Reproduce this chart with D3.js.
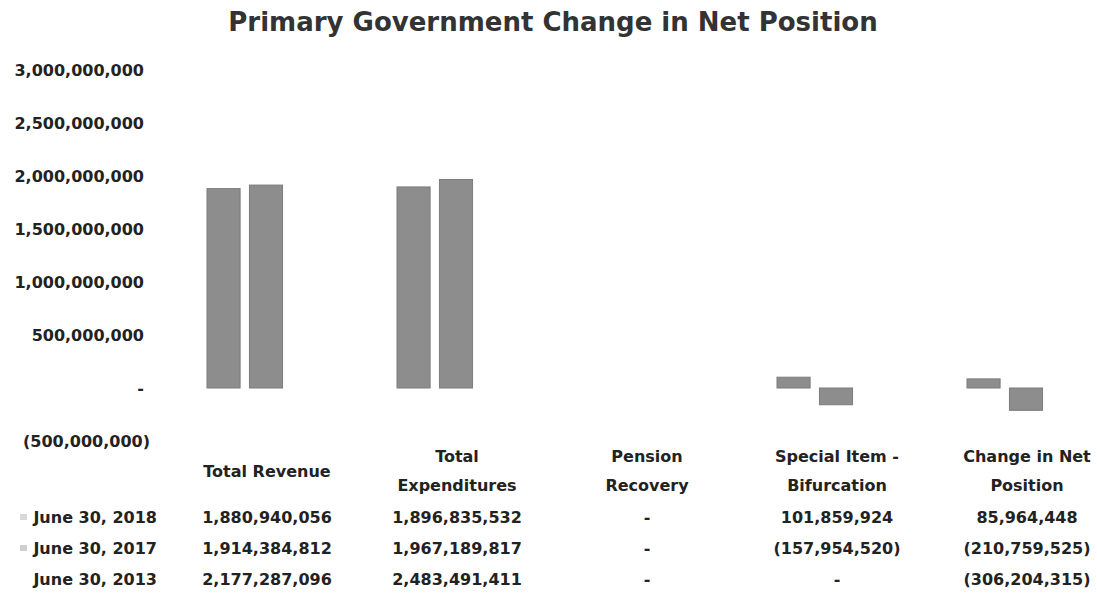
<!DOCTYPE html>
<html>
<head>
<meta charset="utf-8">
<script src="https://cdn.jsdelivr.net/npm/d3@7"></script>
<style>
  body { margin: 0; background: #fff; }
  svg text { font-family: "DejaVu Sans", sans-serif; font-weight: bold; fill: #222; }
</style>
</head>
<body>
<svg id="chart" width="1097" height="595"></svg>
<script>
// Data
const categories = ["Total Revenue", "Total Expenditures", "Pension Recovery", "Special Item - Bifurcation", "Change in Net Position"];
const categoryLines = [["Total Revenue"], ["Total", "Expenditures"], ["Pension", "Recovery"], ["Special Item -", "Bifurcation"], ["Change in Net", "Position"]];
const seriesNames = ["June 30, 2018", "June 30, 2017", "June 30, 2013"];
const values2018 = [1880940056, 1896835532, 0, 101859924, 85964448];
const values2017 = [1914384812, 1967189817, 0, -157954520, -210759525];
const values2013 = [2177287096, 2483491411, 0, 0, -306204315];
const yTicks = [-500000000, 0, 500000000, 1000000000, 1500000000, 2000000000, 2500000000, 3000000000];

const seriesValues = [values2018, values2017, values2013];
const seriesFill = ["#8d8d8d", "#8d8d8d", "#ffffff"];
const keyFill = ["#d8d8d8", "#cfcfcf", "none"];

const svg = d3.select("#chart");

// Title
svg.append("text")
  .attr("x", 553)
  .attr("y", 31)
  .attr("text-anchor", "middle")
  .attr("font-size", "26px")
  .style("fill", "#333")
  .text("Primary Government Change in Net Position");

// Scales
const x0 = d3.scaleBand()
  .domain(categories)
  .range([171, 1121]);

const x1 = d3.scaleBand()
  .domain(seriesNames)
  .range([36, 154])
  .paddingInner(0.22);

const y = d3.scaleLinear()
  .domain([-500000000, 3000000000])
  .range([441, 70]);

// Excel accounting style number format
const fmtNum = d3.format(",");
function acct(v)
{
  if (v === 0) return "-";
  if (v < 0) return "(" + fmtNum(-v) + ")";
  return fmtNum(v);
}

// Y axis (labels only)
const yAxis = d3.axisLeft(y)
  .tickValues(yTicks)
  .tickFormat(acct)
  .tickSize(0)
  .tickPadding(0);

const yAxisG = svg.append("g")
  .attr("transform", "translate(144, 0)")
  .call(yAxis);
yAxisG.select(".domain").remove();
yAxisG.selectAll("text")
  .attr("font-size", "16px")
  .style("font-family", "\"DejaVu Sans\", sans-serif")
  .style("font-weight", "bold")
  .style("fill", "#222")
  .attr("dy", "0.35em");
// the negative label sits slightly right in the original
yAxisG.selectAll(".tick")
  .filter(d => d < 0)
  .select("text")
  .attr("x", 6);

// Bars
const barData = [];
seriesNames.forEach((s, si) =>
{
  categories.forEach((c, ci) =>
  {
    barData.push({ series: s, si: si, category: c, value: seriesValues[si][ci] });
  });
});

svg.append("g")
  .selectAll("rect")
  .data(barData)
  .enter()
  .append("rect")
  .attr("x", d => x0(d.category) + x1(d.series))
  .attr("y", d => y(Math.max(0, d.value)))
  .attr("width", x1.bandwidth())
  .attr("height", d => Math.abs(y(d.value) - y(0)))
  .attr("fill", d => seriesFill[d.si])
  .attr("stroke", d => d.si < 2 ? "#7c7c7c" : "none")
  .attr("stroke-width", 1);

// Data table: category headers
const colX = c => x0(c) + x0.bandwidth() / 2 + 1;
const headerG = svg.append("g");
categories.forEach((c, ci) =>
{
  const cx = colX(c);
  const lines = categoryLines[ci];
  const t = headerG.append("text")
    .attr("text-anchor", "middle")
    .attr("font-size", "16px")
    .attr("x", cx);
  if (lines.length === 1)
  {
    t.attr("y", 477).text(lines[0]);
  }
  else
  {
    t.append("tspan").attr("x", cx).attr("y", 462).text(lines[0]);
    t.append("tspan").attr("x", cx).attr("y", 491).text(lines[1]);
  }
});

// Data table: rows
const rowY = d3.scalePoint()
  .domain(seriesNames)
  .range([523, 585]);

const rowsG = svg.append("g");
seriesNames.forEach((s, si) =>
{
  // legend key
  if (keyFill[si] !== "none")
  {
    rowsG.append("rect")
      .attr("x", 20)
      .attr("y", rowY(s) - 9)
      .attr("width", 7)
      .attr("height", 6)
      .attr("fill", keyFill[si]);
  }
  rowsG.append("text")
    .attr("x", 157)
    .attr("y", rowY(s))
    .attr("text-anchor", "end")
    .attr("font-size", "16px")
    .text(s);

  categories.forEach((c, ci) =>
  {
    rowsG.append("text")
      .attr("x", colX(c))
      .attr("y", rowY(s))
      .attr("text-anchor", "middle")
      .attr("font-size", "16px")
      .text(acct(seriesValues[si][ci]));
  });
});
</script>
</body>
</html>
